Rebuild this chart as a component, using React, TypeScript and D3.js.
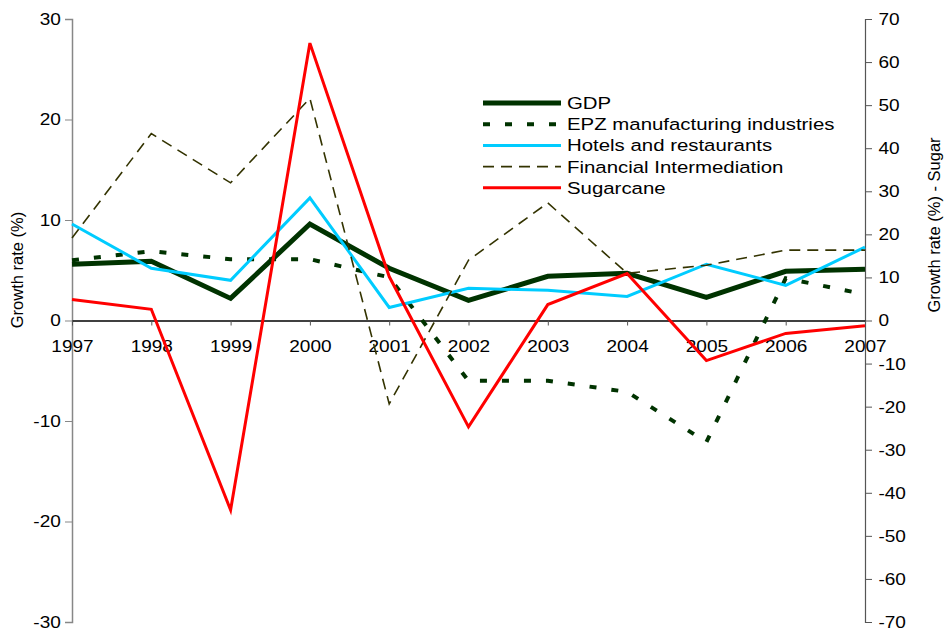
import React, { useEffect, useRef } from 'react';
import * as d3 from 'd3';

// values
const years = ['1997', '1998', '1999', '2000', '2001', '2002', '2003', '2004', '2005', '2006', '2007'];
const gdp = [5.6, 5.9, 2.2, 9.6, 5.2, 2.0, 4.4, 4.7, 2.3, 4.9, 5.1];
const epz = [6.0, 6.9, 6.1, 6.1, 4.3, -6.0, -6.0, -7.1, -12.1, 4.2, 2.6];
const hotels = [9.6, 5.2, 4.0, 12.2, 1.3, 3.2, 3.0, 2.4, 5.6, 3.5, 7.3];
const financial = [8.2, 18.6, 13.7, 22.1, -8.3, 6.0, 11.7, 4.7, 5.5, 7.0, 7.0];
// sugarcane is on the right axis
const sugarcane = [4.9, 2.6, -44, 64.4, 10.2, -24.7, 3.7, 10.9, -9.3, -3.0, -1.2];

const leftTicks = [-30, -20, -10, 0, 10, 20, 30];
const rightTicks = [-70, -60, -50, -40, -30, -20, -10, 0, 10, 20, 30, 40, 50, 60, 70];

const FONT = '"Liberation Sans", Arial, sans-serif';
const SX = 1.12; // text in the picture is a bit wide

const App = () => {
  const svgRef = useRef<SVGSVGElement | null>(null);

  useEffect(() => {
    const svg = d3.select(svgRef.current);
    svg.selectAll('*').remove();

    const left = 72, right = 865, top = 19, bottom = 622;

    const x = d3.scalePoint<string>().domain(years).range([left, right]);
    const yL = d3.scaleLinear().domain([-30, 30]).range([bottom, top]);
    const yR = d3.scaleLinear().domain([-70, 70]).range([bottom, top]);

    const fmt = (d: any) => String(d); // plain hyphen minus like the original

    // left axis
    const gl = svg.append('g')
      .attr('transform', `translate(${left},0)`)
      .call(d3.axisLeft(yL).tickValues(leftTicks).tickSize(7).tickPadding(3).tickFormat(fmt));
    gl.select('.domain').attr('stroke', '#878787').attr('stroke-width', 1.5);
    gl.selectAll('.tick line').attr('stroke', '#878787');

    // right axis
    const gr = svg.append('g')
      .attr('transform', `translate(${right},0)`)
      .call(d3.axisRight(yR).tickValues(rightTicks).tickSize(7).tickPadding(5).tickFormat(fmt));
    gr.select('.domain').attr('stroke', '#555').attr('stroke-width', 1.2);
    gr.selectAll('.tick line').attr('stroke', '#555');

    // x axis on zero
    const gx = svg.append('g')
      .attr('transform', `translate(0,${yL(0)})`)
      .call(d3.axisBottom(x).tickSizeInner(5).tickSizeOuter(0).tickPadding(14));
    gx.select('.domain').attr('stroke', '#000').attr('stroke-width', 1.3);
    gx.selectAll('.tick line').attr('stroke', '#555');

    svg.selectAll('.tick text')
      .attr('font-family', FONT)
      .attr('font-size', 17)
      .attr('fill', '#000')
      .attr('transform', `scale(${SX},1)`);

    // axis titles
    svg.append('text')
      .attr('transform', `translate(23,270) rotate(-90)`)
      .attr('text-anchor', 'middle')
      .attr('font-family', FONT)
      .attr('font-size', 16.5)
      .text('Growth rate (%)');
    svg.append('text')
      .attr('transform', `translate(940,225) rotate(-90)`)
      .attr('text-anchor', 'middle')
      .attr('font-family', FONT)
      .attr('font-size', 16.5)
      .text('Growth rate (%) - Sugar');

    const series = [
      { name: 'GDP', values: gdp, y: yL, color: '#003300', width: 5, dash: null },
      { name: 'EPZ manufacturing industries', values: epz, y: yL, color: '#003300', width: 4, dash: '7,15' },
      { name: 'Hotels and restaurants', values: hotels, y: yL, color: '#00CCFF', width: 3, dash: null },
      { name: 'Financial Intermediation', values: financial, y: yL, color: '#333300', width: 1.6, dash: '11,7' },
      { name: 'Sugarcane', values: sugarcane, y: yR, color: '#FF0000', width: 3, dash: null },
    ];

    series.forEach(s => {
      const line = d3.line<number>()
        .x((_, i) => x(years[i]) as number)
        .y(d => s.y(d));
      svg.append('path')
        .datum(s.values)
        .attr('d', line)
        .attr('fill', 'none')
        .attr('stroke', s.color)
        .attr('stroke-width', s.width)
        .attr('stroke-dasharray', s.dash)
        .attr('stroke-linejoin', 'miter');
    });

    // legend
    const lg = svg.append('g');
    series.forEach((s, i) => {
      const ly = 103 + i * 21.2;
      lg.append('line')
        .attr('x1', 483).attr('x2', 561)
        .attr('y1', ly).attr('y2', ly)
        .attr('stroke', s.color)
        .attr('stroke-width', s.width)
        .attr('stroke-dasharray', s.dash);
      lg.append('text')
        .attr('transform', `translate(567,${ly + 6}) scale(1.2,1)`)
        .attr('font-family', FONT)
        .attr('font-size', 17)
        .text(s.name);
    });
  }, []);

  return (
    <svg ref={svgRef} width={945} height={631}
      style={{ position: 'absolute', left: 0, top: 0, background: '#fff' }} />
  );
};

export default App;
